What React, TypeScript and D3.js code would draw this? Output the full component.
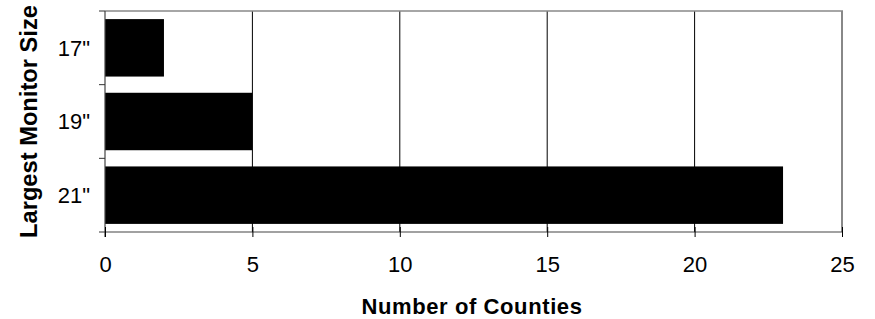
import React from "react";
import * as d3 from "d3";

const categories = ['17"', '19"', '21"'];
const counties = [2, 5, 23];
const xTicks = [0, 5, 10, 15, 20, 25];
const xTitle = "Number of Counties";
const yTitle = "Largest Monitor Size";

export default function App() {
  const width = 875;
  const height = 319;
  const left = 105;
  const right = 842;
  const top = 11;
  const bottom = 232;
  const font = "'Liberation Sans', Arial, sans-serif";

  const svgRef = React.useRef<SVGSVGElement>(null);

  const xScale = d3.scaleLinear().domain([0, 25]).range([left, right]);
  const yScale = d3
    .scaleBand()
    .domain(categories)
    .range([top, bottom])
    .paddingInner(0.22)
    .paddingOuter(0.11);

  React.useEffect(() => {
    const svg = d3.select(svgRef.current);

    // x axis: ticks cross the axis line
    const xAxis = d3
      .axisBottom(xScale)
      .tickValues(xTicks)
      .tickSize(5)
      .tickPadding(19)
      .tickFormat((d) => String(d));

    svg
      .select<SVGGElement>(".x-axis")
      .attr("transform", `translate(0,${bottom})`)
      .call(xAxis)
      .call((g) => g.select(".domain").remove())
      .call((g) =>
        g.selectAll(".tick line").attr("y1", -5).attr("stroke", "#000")
      )
      .selectAll("text")
      .style("font-size", "22px")
      .style("font-family", font)
      .attr("fill", "#000");

    // y axis ticks sit on band boundaries, labels in the middle
    const bounds = [top, ...categories.map((c) => (yScale(c) as number) + yScale.bandwidth() + (yScale.step() - yScale.bandwidth()) / 2)];
    svg
      .select(".y-ticks")
      .selectAll("line")
      .data(bounds)
      .join("line")
      .attr("x1", left - 6)
      .attr("x2", left)
      .attr("y1", (d) => d)
      .attr("y2", (d) => d)
      .attr("stroke", "#333");

    svg
      .select(".y-labels")
      .selectAll("text")
      .data(categories)
      .join("text")
      .attr("x", left - 15)
      .attr("y", (d) => (yScale(d) as number) + yScale.bandwidth() / 2)
      .attr("dy", "0.36em")
      .attr("text-anchor", "end")
      .style("font-size", "22px")
      .style("font-family", font)
      .text((d) => d);

    svg
      .select(".bars")
      .selectAll("rect")
      .data(categories)
      .join("rect")
      .attr("x", xScale(0))
      .attr("y", (d) => yScale(d) as number)
      .attr("width", (d, i) => xScale(counties[i]) - xScale(0))
      .attr("height", yScale.bandwidth())
      .attr("fill", "#000");
  }, []);

  return (
    <svg
      ref={svgRef}
      width={width}
      height={height}
      style={{ position: "absolute", left: 0, top: 0, background: "#fff" }}
    >
      <rect x={left} y={top} width={right - left} height={bottom - top} fill="#fff" />
      {xTicks.slice(1, -1).map((t) => (
        <line key={t} x1={xScale(t)} x2={xScale(t)} y1={top} y2={bottom} stroke="#000" strokeWidth={1} />
      ))}
      <line x1={left} x2={right + 1} y1={top} y2={top} stroke="#888" strokeWidth={1.5} />
      <line x1={right} x2={right} y1={top} y2={bottom} stroke="#888" strokeWidth={2} />
      <g className="bars" />
      <line x1={left} x2={right} y1={bottom} y2={bottom} stroke="#444" strokeWidth={1.2} />
      <line x1={left} x2={left} y1={top} y2={bottom + 5} stroke="#444" strokeWidth={1.2} />
      <g className="y-ticks" />
      <g className="y-labels" />
      <g className="x-axis" />
      <text
        x={472}
        y={314}
        textAnchor="middle"
        fontFamily={font}
        fontWeight="bold"
        fontSize={22}
        letterSpacing={0.6}
      >
        {xTitle}
      </text>
      <text
        transform={`translate(37,121.5) rotate(-90)`}
        textAnchor="middle"
        fontFamily={font}
        fontWeight="bold"
        fontSize={23.7}
      >
        {yTitle}
      </text>
    </svg>
  );
}
